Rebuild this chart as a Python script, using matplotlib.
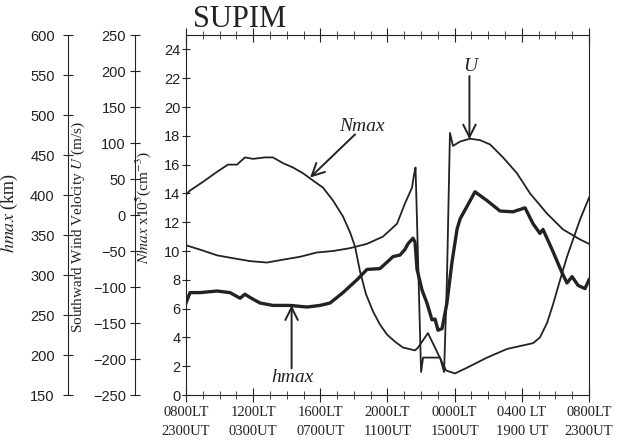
import numpy as np
import matplotlib.pyplot as plt
from matplotlib.ticker import MultipleLocator

# hours after 0800LT
nmax_hr = [0.0, 0.24, 1.01, 1.85, 2.50, 3.04, 3.51, 3.99, 4.71, 5.18, 5.78, 6.37, 6.97,
           7.56, 8.16, 8.76, 9.35, 9.77, 10.07, 10.36, 10.72, 11.14, 11.55, 11.97, 12.45,
           12.92, 13.64, 13.82, 14.41, 15.49, 16.02, 16.74, 17.93, 19.12, 19.89, 20.67,
           21.08, 21.50, 21.86, 22.28, 22.69, 23.05, 23.47, 24.0]
nmax = [13.9, 14.2, 14.8, 15.5, 16.0, 16.0, 16.5, 16.4, 16.5, 16.5, 16.1, 15.8, 15.4,
        14.9, 14.4, 13.5, 12.4, 11.3, 10.3, 8.6, 7.0, 5.8, 4.9, 4.2, 3.7,
        3.3, 3.1, 3.3, 4.3, 1.7, 1.5, 1.9, 2.6, 3.2, 3.4, 3.6,
        4.0, 5.0, 6.3, 8.0, 9.6, 10.8, 12.2, 13.7]  # x10^5 cm^-3

u_hr = [0.0, 0.83, 1.85, 2.80, 3.81, 4.82, 5.78, 6.79, 7.80, 8.76, 9.77, 10.78, 11.73,
        12.57, 13.04, 13.46, 13.58, 13.67, 13.76, 14.00, 14.12, 15.13, 15.37, 15.54,
        15.72, 15.90, 16.32, 16.91, 17.51, 18.11, 18.88, 19.71, 20.49, 21.50, 22.45,
        23.47, 24.0]
u_wind = [-42, -48, -56, -60, -64, -66, -62, -58, -52, -50, -46, -40, -30,
          -12, 16, 38, 56, 66, -10, -218, -198, -198, -218, -90,
          114, 96, 102, 106, 104, 98, 80, 58, 30, 2, -20,
          -34, -40]  # m/s

h_hr = [0.0, 0.24, 0.83, 1.85, 2.62, 3.22, 3.51, 3.81, 4.41, 5.18, 6.19, 7.21, 7.98,
        8.58, 9.35, 10.18, 10.78, 11.55, 11.97, 12.33, 12.75, 13.04, 13.22, 13.52,
        13.64, 13.76, 14.06, 14.35, 14.65, 14.83, 15.01, 15.25, 15.54, 15.84, 16.14,
        16.32, 16.74, 17.21, 17.93, 18.70, 19.47, 20.19, 20.67, 21.08, 21.26, 21.80,
        22.39, 22.69, 22.99, 23.35, 23.76, 24.0]
hmax = [265, 278, 278, 280, 278, 271, 276, 272, 265, 262, 262, 260, 262,
        265, 278, 294, 307, 308, 316, 323, 325, 332, 339, 346,
        341, 307, 281, 265, 244, 245, 231, 233, 265, 316, 357,
        370, 386, 404, 393, 380, 379, 384, 364, 352, 357, 332,
        303, 290, 298, 287, 283, 294]  # km

xticks = [0, 4, 8, 12, 16, 20, 24]
xlabels = ['0800LT\n2300UT', '1200LT\n0300UT', '1600LT\n0700UT', '2000LT\n1100UT',
           '0000LT\n1500UT', '0400 LT\n1900 UT', '0800LT\n2300UT']

plt.rcParams['mathtext.fontset'] = 'stix'
serif = 'Liberation Serif'
sans = 'Liberation Sans'
ink = '#222222'

fig = plt.figure(figsize=(6.38, 4.46), dpi=100)
ax = fig.add_axes([0.2915, 0.1143, 0.6317, 0.8072])

ax.plot(nmax_hr, nmax, color=ink, lw=1.3)
ax.set_xlim(0, 24)
ax.set_ylim(0, 25)
ax.xaxis.set_major_locator(MultipleLocator(4))
ax.xaxis.set_minor_locator(MultipleLocator(1))
ax.set_xticks(xticks)
ax.set_xticklabels(xlabels, fontfamily=serif, fontsize=10.5, linespacing=1.6)
ax.set_yticks(np.arange(0, 25, 2))
ax.tick_params(axis='x', which='major', direction='inout', length=10, top=True, pad=3, colors=ink)
ax.tick_params(axis='x', which='minor', direction='inout', length=6, top=True, colors=ink)
ax.tick_params(axis='y', direction='inout', length=6, right=True, pad=1, labelsize=10.5, colors=ink)
for t in ax.get_yticklabels():
    t.set_fontfamily(sans)
for s in ax.spines.values():
    s.set_color(ink)
ax.set_ylabel(r'$\mathit{Nmax}$ x10$^5$(cm$^{-3}$)', fontfamily=serif, fontsize=11, color=ink)
ax.yaxis.set_label_coords(-0.082, 0.52)

# U axis
axU = ax.twinx()
axU.plot(u_hr, u_wind, color=ink, lw=1.3)
axU.set_ylim(-250, 250)
axU.yaxis.set_ticks_position('left')
axU.yaxis.set_label_position('left')
axU.spines['left'].set_visible(True)
axU.spines['left'].set_position(('outward', 36.7))
axU.spines['left'].set_color(ink)
for s in ['right', 'top', 'bottom']:
    axU.spines[s].set_visible(False)
axU.set_yticks(np.arange(-250, 251, 50))
axU.tick_params(axis='y', direction='inout', length=7, pad=3, labelsize=10.5, colors=ink)
for t in axU.get_yticklabels():
    t.set_fontfamily(sans)
axU.set_ylabel(r'Southward Wind Velocity $\mathit{U}$ (m/s)', fontfamily=serif, fontsize=11, color=ink)
axU.yaxis.set_label_coords(-0.2457, 0.468)

# hmax axis
axH = ax.twinx()
axH.plot(h_hr, hmax, color=ink, lw=2.4)
axH.set_ylim(150, 600)
axH.yaxis.set_ticks_position('left')
axH.yaxis.set_label_position('left')
axH.spines['left'].set_visible(True)
axH.spines['left'].set_position(('outward', 85))
axH.spines['left'].set_color(ink)
for s in ['right', 'top', 'bottom']:
    axH.spines[s].set_visible(False)
axH.set_yticks(np.arange(150, 601, 50))
axH.tick_params(axis='y', direction='inout', length=7, pad=6, labelsize=10.5, colors=ink)
for t in axH.get_yticklabels():
    t.set_fontfamily(sans)
axH.set_ylabel(r'$\mathit{hmax}$ (km)', fontfamily=serif, fontsize=13, color=ink)
axH.yaxis.set_label_coords(-0.412, 0.504)

# annotations (in Nmax/hours coordinates)
arrow = dict(arrowstyle='->, head_length=0.9, head_width=0.45', lw=1.4, color=ink,
             shrinkA=0, shrinkB=0)
axH.annotate('', xy=(7.39, 15.1), xytext=(10.07, 18.1), xycoords=ax.transData,
             textcoords=ax.transData, arrowprops=arrow)
axH.text(10.48, 18.34, 'Nmax', transform=ax.transData, ha='center', va='baseline',
         fontfamily=serif, style='italic', fontsize=14, color=ink)
axH.annotate('', xy=(16.88, 17.76), xytext=(16.88, 22.15), xycoords=ax.transData,
             textcoords=ax.transData, arrowprops=arrow)
axH.text(16.91, 22.5, 'U', transform=ax.transData, ha='center', va='baseline',
         fontfamily=serif, style='italic', fontsize=14, color=ink)
axH.annotate('', xy=(6.29, 6.23), xytext=(6.29, 1.85), xycoords=ax.transData,
             textcoords=ax.transData, arrowprops=arrow)
axH.text(6.31, 0.9, 'hmax', transform=ax.transData, ha='center', va='baseline',
         fontfamily=serif, style='italic', fontsize=14, color=ink)

fig.text(193 / 638, 1 - 27 / 446, 'SUPIM', ha='left', va='baseline',
         fontfamily=serif, fontsize=22, color=ink)

fig.savefig('out.png', dpi=100)
